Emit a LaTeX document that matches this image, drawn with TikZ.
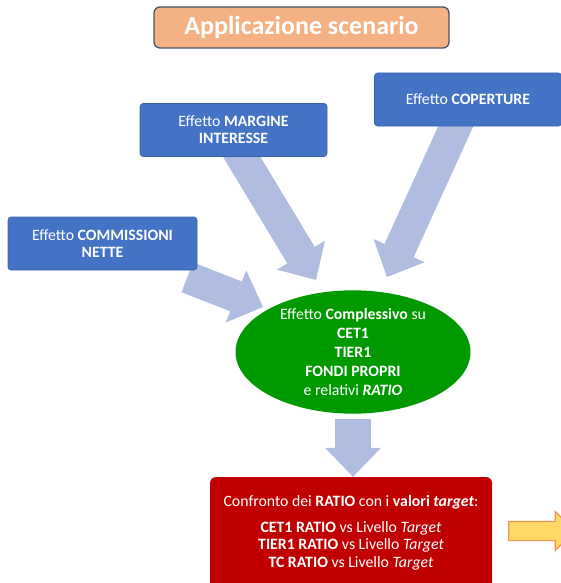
\documentclass[tikz,border=0pt]{standalone}
\usepackage{fontspec}
\setmainfont{Carlito}
\usetikzlibrary{shapes.geometric,shapes.arrows,arrows.meta,backgrounds}

\definecolor{boxblue}{RGB}{68,114,196}
\definecolor{boxline}{RGB}{58,98,172}
\definecolor{arrowblue}{RGB}{176,189,224}
\definecolor{totgreen}{RGB}{0,153,0}
\definecolor{cmpred}{RGB}{192,0,0}
\definecolor{titlefill}{RGB}{244,177,131}
\definecolor{titleline}{RGB}{68,84,106}
\definecolor{nxtfill}{RGB}{255,217,102}
\definecolor{nxtline}{RGB}{241,150,80}

\begin{document}
\begin{tikzpicture}[
      x=1pt, y=-1pt,
      every node/.style={text=white, align=center, inner sep=2pt},
      effbox/.style={rectangle, rounded corners=3pt, fill=boxblue, draw=boxline,
        line width=0.6pt, minimum width=187pt, minimum height=53pt,
        font=\fontsize{15.8}{17}\selectfont},
      blockarrow/.style={draw=arrowblue, line width=#1,
        -{Triangle[width=56pt, length=29pt, line width=0pt]}},
      blockarrow/.default=32pt
    ]
    \useasboundingbox (0,0) rectangle (561,583);

    % titolo
    \node[rectangle, rounded corners=6pt, fill=titlefill, draw=titleline, line width=1.3pt,
      minimum width=295pt, minimum height=41pt, font=\fontsize{26}{30}\selectfont\bfseries]
      (title) at (301.5,27.5) {Applicazione scenario};

    % effetti singoli
    \node[effbox] (cop) at (468,99.5) {Effetto \textbf{COPERTURE}};
    \node[effbox] (marg) at (233.5,130) {Effetto \textbf{MARGINE}\\\textbf{INTERESSE}};
    \node[effbox, minimum width=189pt] (comm) at (102.5,243.5) {Effetto \textbf{COMMISSIONI}\\\textbf{NETTE}};

    % effetto complessivo
    \node[ellipse, fill=totgreen, minimum width=235pt, minimum height=120pt, inner sep=0pt,
      font=\fontsize{15.8}{19}\selectfont]
      (tot) at (353,352) {Effetto \textbf{Complessivo} su\\\textbf{CET1}\\\textbf{TIER1}\\\textbf{FONDI PROPRI}\\e relativi \textbf{\textit{RATIO}}};

    % confronto con i target
    \node[rectangle, rounded corners=6pt, fill=cmpred, minimum width=282pt, minimum height=112pt,
      font=\fontsize{15.8}{17.5}\selectfont]
      (cmp) at (351,533) {Confronto dei \textbf{RATIO} con i \textbf{valori \textit{target}}:\\[8pt]
        \textbf{CET1 RATIO} vs Livello \textit{Target}\\
        \textbf{TIER1 RATIO} vs Livello \textit{Target}\\
        \textbf{TC RATIO} vs Livello \textit{Target}};

    \node[single arrow, fill=nxtfill, draw=nxtline, line width=1.2pt, minimum height=66pt,
      minimum width=38pt, single arrow head extend=10pt, inner xsep=0pt, inner ysep=9pt]
      (nxt) at (537,531) {};

    \coordinate (tipM) at (316,280);
    \coordinate (tipC) at (387,277);
    \coordinate (tipN) at (263,307);

    \begin{scope}[on background layer]
      \draw[blockarrow] ([xshift=-8pt]marg.center) -- (tipM);
      \draw[blockarrow] (cop.center) -- (tipC);
      \draw[blockarrow] ([xshift=-10pt, yshift=-7pt]comm.south east) -- (tipN);
      \draw[blockarrow=36pt] ([yshift=-5pt]tot.south) -- (tot.south |- cmp.north);
    \end{scope}

  \end{tikzpicture}
\end{document}
